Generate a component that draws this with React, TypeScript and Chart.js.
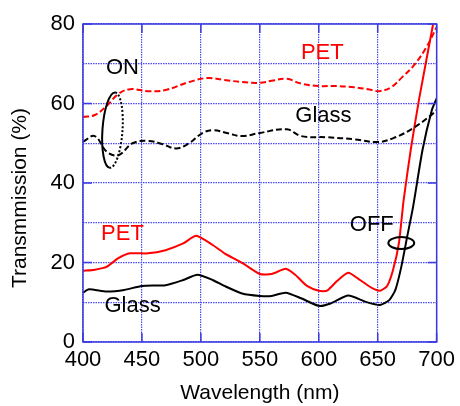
import React, { useEffect, useRef } from "react";
import { Chart, registerables } from "chart.js";

Chart.register(...registerables);

// ---- data ----
const petOnWl = [400, 410, 420, 430, 440, 455, 470, 490, 505, 520, 535, 550, 560, 573, 585, 600, 615, 630, 645, 651, 661, 671, 681, 691, 700];
const petOnVal = [56.6, 57.1, 59.4, 62.4, 63.6, 63.1, 63.4, 65.4, 66.4, 65.9, 65.4, 65.2, 65.7, 66.2, 65, 64.4, 64.4, 64.1, 63.4, 63.1, 64, 66.7, 69.7, 74, 79.2];

const glassOnWl = [400, 410, 420, 430, 442, 455, 467, 479, 490, 501, 510, 523, 535, 550, 573, 585, 607, 630, 650, 665, 680, 695, 700];
const glassOnVal = [50.4, 51.8, 47.9, 47, 50, 50.6, 49.8, 48.7, 50, 52.5, 53.3, 52.5, 51.8, 52.6, 53.5, 51.8, 51.5, 51, 50.3, 51.5, 53.8, 57, 58.4];

const petOffWl = [400, 410, 420, 430, 440, 455, 470, 485, 496, 510, 520, 535, 550, 560, 572, 580, 590, 600, 607, 615, 625, 635, 645, 652, 658, 663, 668, 672, 678, 685, 697];
const petOffVal = [17.9, 18.2, 18.9, 21.1, 22.3, 22.3, 23.1, 24.8, 26.7, 24.4, 22.3, 19.9, 17.1, 17.1, 18.4, 16.9, 14.1, 12.9, 12.9, 15.2, 17.4, 15.6, 13.6, 12.9, 14.1, 18.1, 24.9, 35.7, 48.3, 60.9, 80];

const glassOffWl = [400, 405, 420, 435, 450, 470, 485, 497, 510, 520, 535, 550, 560, 572, 585, 600, 610, 625, 640, 652, 660, 665, 670, 675, 680, 688, 696, 700];
const glassOffVal = [12.4, 13.3, 12.7, 13.1, 14.1, 14.3, 15.6, 16.9, 15.6, 14.1, 12.2, 11.6, 11.6, 12.4, 11, 9.1, 9.7, 11.7, 10.1, 9.3, 10.6, 13.1, 18.9, 26.5, 34, 48.3, 58.4, 61.3];

const xTicks = [400, 450, 500, 550, 600, 650, 700];
const yTickLabels = [0, 20, 40, 60, 80];

const xTitle = "Wavelength (nm)";
const yTitle = "Transmmission (%)";

// annotation labels in data coordinates
const labelTexts = ["ON", "PET", "Glass", "PET", "Glass", "OFF"];
const labelColors = ["#000", "#ff0000", "#000", "#ff0000", "#000", "#000"];
const labelWl = [433.5, 603, 604, 433.5, 442, 645];
const labelVal = [68.9, 72.7, 56.9, 27.2, 9.1, 29.4];

const toPts = (xs: number[], ys: number[]) => xs.map((x, i) => ({ x, y: ys[i] }));

const FONT = "Arial, 'Liberation Sans', sans-serif";
const FRAME = "#3a3ae0";

const annotPlugin = {
  id: "annot",
  afterDraw(chart: any) {
    const { ctx, chartArea: a, scales } = chart;
    const xs = scales.x;
    const ys = scales.y;
    ctx.save();
    // frame
    ctx.strokeStyle = FRAME;
    ctx.lineWidth = 1.5;
    ctx.setLineDash([]);
    ctx.strokeRect(a.left, a.top, a.right - a.left, a.bottom - a.top);
    // inner major ticks
    ctx.lineWidth = 1.5;
    ctx.beginPath();
    yTickLabels.forEach((v) => {
      const py = ys.getPixelForValue(v);
      ctx.moveTo(a.left, py);
      ctx.lineTo(a.left + 9, py);
      ctx.moveTo(a.right, py);
      ctx.lineTo(a.right - 9, py);
    });
    xTicks.forEach((v) => {
      const px = xs.getPixelForValue(v);
      ctx.moveTo(px, a.bottom);
      ctx.lineTo(px, a.bottom - 9);
      ctx.moveTo(px, a.top);
      ctx.lineTo(px, a.top + 9);
    });
    ctx.stroke();

    // labels
    ctx.textAlign = "center";
    ctx.textBaseline = "middle";
    ctx.font = `22px ${FONT}`;
    labelTexts.forEach((t, i) => {
      ctx.fillStyle = labelColors[i];
      ctx.fillText(t, xs.getPixelForValue(labelWl[i]), ys.getPixelForValue(labelVal[i]));
    });

    // ON ellipse: left half solid, right half dotted
    const cx = xs.getPixelForValue(425);
    const cy = ys.getPixelForValue(53.3);
    const rx = xs.getPixelForValue(433.5) - cx;
    const ry = cy - ys.getPixelForValue(62.8);
    ctx.strokeStyle = "#000";
    ctx.lineWidth = 2;
    ctx.beginPath();
    ctx.ellipse(cx, cy, rx, ry, 0.07, Math.PI / 2, (3 * Math.PI) / 2);
    ctx.stroke();
    ctx.setLineDash([2, 2]);
    ctx.beginPath();
    ctx.ellipse(cx, cy, rx, ry, 0.07, -Math.PI / 2, Math.PI / 2);
    ctx.stroke();
    ctx.setLineDash([]);

    // OFF ellipse
    const ox = xs.getPixelForValue(670);
    const oy = ys.getPixelForValue(24.9);
    const orx = xs.getPixelForValue(681) - ox;
    const ory = oy - ys.getPixelForValue(26.4);
    ctx.beginPath();
    ctx.ellipse(ox, oy, orx, ory, 0, 0, Math.PI * 2);
    ctx.stroke();

    // axis titles
    ctx.fillStyle = "#000";
    ctx.font = `21px ${FONT}`;
    ctx.fillText(xTitle, (a.left + a.right) / 2, 393);
    ctx.save();
    ctx.translate(20, 198);
    ctx.rotate(-Math.PI / 2);
    ctx.fillText(yTitle, 0, 0);
    ctx.restore();
    ctx.restore();
  },
};

export default function App() {
  const ref = useRef<HTMLCanvasElement | null>(null);
  useEffect(() => {
    if (!ref.current) return;
    const chart = new Chart(ref.current, {
      type: "line",
      data: {
        datasets: [
          {
            label: "PET ON",
            data: toPts(petOnWl, petOnVal),
            borderColor: "#ff0000",
            borderWidth: 2,
            borderDash: [6, 3],
            pointRadius: 0,
            tension: 0.4,
          },
          {
            label: "Glass ON",
            data: toPts(glassOnWl, glassOnVal),
            borderColor: "#000000",
            borderWidth: 2,
            borderDash: [6, 3],
            pointRadius: 0,
            tension: 0.4,
          },
          {
            label: "PET OFF",
            data: toPts(petOffWl, petOffVal),
            borderColor: "#ff0000",
            borderWidth: 2,
            pointRadius: 0,
            tension: 0.2,
          },
          {
            label: "Glass OFF",
            data: toPts(glassOffWl, glassOffVal),
            borderColor: "#000000",
            borderWidth: 2,
            pointRadius: 0,
            tension: 0.2,
          },
        ],
      },
      options: {
        responsive: false,
        animation: false,
        layout: { padding: { left: 0, top: 24, right: 19, bottom: 0 } },
        plugins: { legend: { display: false }, tooltip: { enabled: false } },
        scales: {
          x: {
            type: "linear",
            min: 400,
            max: 700,
            afterBuildTicks: (s: any) => {
              s.ticks = xTicks.map((v) => ({ value: v }));
            },
            afterFit: (s: any) => {
              s.height = 64;
            },
            ticks: {
              color: "#000",
              font: { family: FONT, size: 22 },
              padding: 5,
              maxRotation: 0,
            },
            grid: { color: "#4a4af5", lineWidth: 1.2, drawTicks: false },
            border: { display: false, dash: [1.5, 1] },
          },
          y: {
            min: 0,
            max: 80,
            ticks: {
              stepSize: 10,
              color: "#000",
              font: { family: FONT, size: 22 },
              padding: 8,
              callback: (v: any) => (yTickLabels.includes(Number(v)) ? String(v) : ""),
            },
            afterFit: (s: any) => {
              s.width = 83;
            },
            grid: { color: "#4a4af5", lineWidth: 1.2, drawTicks: false },
            border: { display: false, dash: [1.5, 1] },
          },
        },
      },
      plugins: [annotPlugin],
    } as any);
    return () => chart.destroy();
  }, []);
  return (
    <div style={{ position: "absolute", left: 0, top: 0, width: 460, height: 406, background: "#fff" }}>
      <canvas ref={ref} width={460} height={406} />
    </div>
  );
}
